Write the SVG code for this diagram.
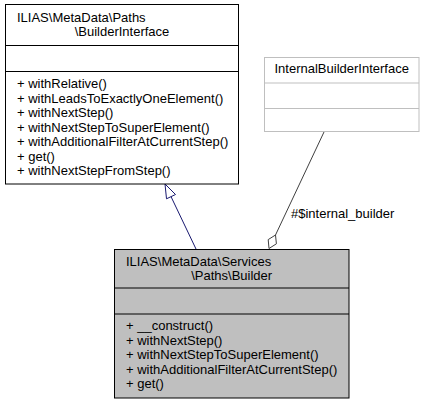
<svg xmlns="http://www.w3.org/2000/svg" width="426" height="404" viewBox="0 0 426 404">
<style>
text{font-family:"Liberation Sans",Arial,Helvetica,sans-serif;font-size:13px;fill:#000}
.box{fill:#fff;stroke:#000;stroke-width:1}
.cur{fill:#bfbfbf;stroke:#000;stroke-width:1}
.ext{fill:#fff;stroke:#bfbfbf;stroke-width:1}
.sep{stroke:#000;stroke-width:1}
.sepx{stroke:#bfbfbf;stroke-width:1}
.gen{stroke:#191970;stroke-width:1;fill:none}
.agg{stroke:#404040;stroke-width:1;fill:none}
.mid{text-anchor:middle}
</style>
<rect width="426" height="404" fill="#fff"/>
<g id="connectors">
<path class="gen" d="M196,249 L171,196.6"/>
<polygon class="gen" fill="#fff" points="165,184 175.5,194.5 166.5,198.8" style="fill:#fff"/>
<path class="agg" d="M324,132 L275.5,235"/>
<polygon class="agg" points="269,248.5 268.2,239.6 275.5,235 276.4,243.8" style="fill:#fff"/>
<text x="291" y="218">#$internal_builder</text>
</g>
<g id="node-builderinterface">
<rect class="box" x="5.5" y="4.5" width="233" height="179.5"/>
<line class="sep" x1="5.5" y1="45.5" x2="238.5" y2="45.5"/>
<line class="sep" x1="5.5" y1="71.5" x2="238.5" y2="71.5"/>
<text x="17" y="22">ILIAS\MetaData\Paths</text>
<text class="mid" x="122" y="36">\BuilderInterface</text>
<text x="17" y="88">+ withRelative()</text>
<text x="17" y="102.5">+ withLeadsToExactlyOneElement()</text>
<text x="17" y="117">+ withNextStep()</text>
<text x="17" y="131.5">+ withNextStepToSuperElement()</text>
<text x="17" y="146">+ withAdditionalFilterAtCurrentStep()</text>
<text x="17" y="160.5">+ get()</text>
<text x="17" y="175">+ withNextStepFromStep()</text>
</g>
<g id="node-internalbuilderinterface">
<rect class="ext" x="264.5" y="57.5" width="154.5" height="74"/>
<line class="sepx" x1="264.5" y1="83" x2="419" y2="83"/>
<line class="sepx" x1="264.5" y1="108.5" x2="419" y2="108.5"/>
<text class="mid" x="341.7" y="72.5">InternalBuilderInterface</text>
</g>
<g id="node-builder">
<rect class="cur" x="114.5" y="249.5" width="234.5" height="148.5"/>
<line class="sep" x1="114.5" y1="288" x2="349" y2="288"/>
<line class="sep" x1="114.5" y1="314" x2="349" y2="314"/>
<text x="126" y="266">ILIAS\MetaData\Services</text>
<text class="mid" x="231.7" y="280">\Paths\Builder</text>
<text x="126" y="330">+ __construct()</text>
<text x="126" y="344.5">+ withNextStep()</text>
<text x="126" y="359">+ withNextStepToSuperElement()</text>
<text x="126" y="373.5">+ withAdditionalFilterAtCurrentStep()</text>
<text x="126" y="388">+ get()</text>
</g>
</svg>
